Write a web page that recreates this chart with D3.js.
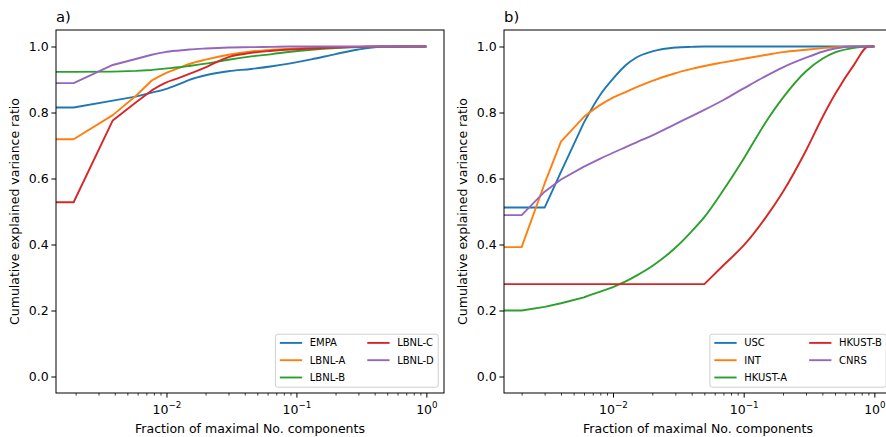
<!DOCTYPE html>
<html lang="en">
<head>
<meta charset="UTF-8">
<title>Cumulative explained variance ratio</title>
<script src="https://d3js.org/d3.v7.min.js"></script>
<style>
  body { margin: 0; background: #fff; }
  svg { display: block; font-family: "DejaVu Sans", sans-serif; }
</style>
</head>
<body>
<svg width="886" height="437"></svg>
<script>
// panel a) -- first x is only a lead-in to the left edge (clipped), like x=0 on a log axis
const xA = [0.0001, 0.00193, 0.00386, 0.0058, 0.0077, 0.0097, 0.0125, 0.015, 0.02, 0.03, 0.045, 0.065, 0.09, 0.13, 0.2, 0.3, 0.45, 0.7, 1.0];
const empa  = [0.815, 0.815, 0.836, 0.848, 0.86, 0.87, 0.886, 0.899, 0.913, 0.925, 0.932, 0.94, 0.949, 0.961, 0.977, 0.991, 0.999, 1.0, 1.0];
const lbnlA = [0.719, 0.719, 0.792, 0.85, 0.897, 0.918, 0.935, 0.947, 0.96, 0.975, 0.985, 0.99, 0.993, 0.996, 0.998, 0.999, 1.0, 1.0, 1.0];
const lbnlB = [0.923, 0.923, 0.924, 0.926, 0.929, 0.933, 0.937, 0.941, 0.948, 0.96, 0.97, 0.977, 0.984, 0.99, 0.995, 0.998, 1.0, 1.0, 1.0];
const lbnlC = [0.528, 0.528, 0.776, 0.83, 0.867, 0.889, 0.905, 0.917, 0.937, 0.968, 0.981, 0.987, 0.991, 0.994, 0.997, 0.999, 1.0, 1.0, 1.0];
const lbnlD = [0.889, 0.889, 0.944, 0.962, 0.975, 0.983, 0.988, 0.991, 0.994, 0.997, 0.998, 0.999, 1.0, 1.0, 1.0, 1.0, 1.0, 1.0, 1.0];
const labelsA = ["EMPA", "LBNL-A", "LBNL-B", "LBNL-C", "LBNL-D"];

// panel b)
const xB = [0.0001, 0.002, 0.003, 0.004, 0.006, 0.008, 0.01, 0.0125, 0.015, 0.02, 0.03, 0.04, 0.05, 0.07, 0.1, 0.15, 0.2, 0.3, 0.4, 0.5, 0.7, 0.9, 1.0];
const usc    = [0.512, 0.512, 0.512, 0.62, 0.77, 0.854, 0.902, 0.943, 0.966, 0.985, 0.997, 0.999, 1.0, 1.0, 1.0, 1.0, 1.0, 1.0, 1.0, 1.0, 1.0, 1.0, 1.0];
const intl   = [0.392, 0.392, 0.585, 0.712, 0.787, 0.823, 0.845, 0.862, 0.876, 0.896, 0.919, 0.932, 0.941, 0.952, 0.963, 0.975, 0.983, 0.99, 0.995, 0.998, 1.0, 1.0, 1.0];
const hkustA = [0.2, 0.2, 0.211, 0.222, 0.24, 0.257, 0.271, 0.288, 0.305, 0.335, 0.39, 0.44, 0.483, 0.565, 0.66, 0.775, 0.845, 0.925, 0.963, 0.982, 0.996, 1.0, 1.0];
const hkustB = [0.28, 0.28, 0.28, 0.28, 0.28, 0.28, 0.28, 0.28, 0.28, 0.28, 0.28, 0.28, 0.28, 0.337, 0.397, 0.486, 0.56, 0.685, 0.785, 0.855, 0.945, 1.0, 1.0];
const cnrs   = [0.489, 0.489, 0.56, 0.597, 0.636, 0.66, 0.678, 0.695, 0.709, 0.731, 0.765, 0.789, 0.808, 0.838, 0.873, 0.912, 0.937, 0.966, 0.984, 0.994, 1.0, 1.0, 1.0];
const labelsB = ["USC", "INT", "HKUST-A", "HKUST-B", "CNRS"];

const yTicks = [0.0, 0.2, 0.4, 0.6, 0.8, 1.0];
const xMajor = [0.01, 0.1, 1];
const colors = ["#1f77b4", "#ff7f0e", "#2ca02c", "#d62728", "#9467bd"];

const svg = d3.select("svg");
const axTop = 30, axBottom = 393, axW = 388;
const tickFont = 12.5, legFont = 10;

const y = d3.scaleLinear().domain([-0.05, 1.05]).range([axBottom, axTop]);

// straight segments for the first few (sparse) points, smooth after
function pathFor(xs, s, kink, x) {
  let flat = 0;
  while (flat + 1 < s.length && s[flat + 1] === s[0]) flat++;
  const k = Math.max(kink, flat);
  const pts = s.map((v, j) => [x(xs[j]), y(v)]);
  const a = d3.line()(pts.slice(0, k + 1));
  const b = d3.line().curve(d3.curveMonotoneX)(pts.slice(k));
  return a + b.replace(/^M/, "L");
}

function drawPanel(id, left, title, xs, series, labels, kink) {
  // matplotlib-like 5% margin in log space, lead-in point excluded
  const lo = Math.log10(d3.min(xs.slice(1))), hi = Math.log10(d3.max(xs));
  const m = (hi - lo) * 0.05;
  const x = d3.scaleLog().domain([10 ** (lo - m), 10 ** (hi + m)]).range([left, left + axW]);
  const g = svg.append("g");

  g.append("clipPath").attr("id", "clip-" + id)
    .append("rect").attr("x", left).attr("y", axTop).attr("width", axW).attr("height", axBottom - axTop);

  series.forEach((s, i) => {
    g.append("path")
      .attr("clip-path", `url(#clip-${id})`)
      .attr("fill", "none")
      .attr("stroke", colors[i])
      .attr("stroke-width", 1.9)
      .attr("stroke-linejoin", "round")
      .attr("d", pathFor(xs, s, kink, x));
  });

  // y axis
  const ya = g.append("g").attr("transform", `translate(${left},0)`)
    .call(d3.axisLeft(y).tickValues(yTicks).tickFormat(d3.format(".1f")).tickSize(4.6).tickPadding(2.8));
  ya.select(".domain").remove();
  ya.selectAll("line").attr("stroke", "#000").attr("stroke-width", 1);
  ya.selectAll("text").attr("font-size", tickFont).attr("fill", "#000")
    .attr("font-family", "DejaVu Sans");

  // x axis: minor then major
  const [d0, d1] = x.domain();
  const minor = [];
  for (let k = -4; k <= 1; k++) for (let j = 2; j <= 9; j++) {
    const v = j * 10 ** k;
    if (v >= d0 && v <= d1) minor.push(v);
  }
  const xm = g.append("g").attr("transform", `translate(0,${axBottom})`)
    .call(d3.axisBottom(x).tickValues(minor).tickFormat("").tickSize(2.6));
  xm.select(".domain").remove();
  xm.selectAll("line").attr("stroke", "#000").attr("stroke-width", 0.75);

  const xa = g.append("g").attr("transform", `translate(0,${axBottom})`)
    .call(d3.axisBottom(x).tickValues(xMajor).tickFormat("").tickSize(4.6));
  xa.select(".domain").remove();
  xa.selectAll("line").attr("stroke", "#000").attr("stroke-width", 1);
  xa.selectAll(".tick").each(function (d) {
    const t = d3.select(this).select("text")
      .attr("y", 20.5).attr("dy", null)
      .attr("font-size", tickFont).attr("fill", "#000").attr("font-family", "DejaVu Sans")
      .attr("text-anchor", "middle");
    t.append("tspan").text("10");
    t.append("tspan").attr("font-size", tickFont * 0.7).attr("dy", -5.2)
      .text(Math.log10(d) === 0 ? "0" : "\u2212" + Math.round(-Math.log10(d)));
  });

  // frame
  g.append("rect").attr("x", left).attr("y", axTop).attr("width", axW).attr("height", axBottom - axTop)
    .attr("fill", "none").attr("stroke", "#000").attr("stroke-width", 1);

  // labels
  g.append("text").attr("x", left + axW / 2).attr("y", 433)
    .attr("text-anchor", "middle").attr("font-size", tickFont)
    .text("Fraction of maximal No. components");
  g.append("text")
    .attr("transform", `translate(${left - 41},${(axTop + axBottom) / 2}) rotate(-90)`)
    .attr("text-anchor", "middle").attr("dy", "0.35em").attr("font-size", tickFont)
    .text("Cumulative explained variance ratio");
  g.append("text").attr("x", left).attr("y", 22).attr("font-size", 14.8).text(title);

  // legend, lower right, two columns
  const pad = 4.4, hl = 22.3, htp = 7.6, cs = 22, rowH = 17.3;
  const right = left + axW - 5.8, bot = axBottom - 5.8;
  const lg = g.append("g");
  const box = lg.append("rect");
  const cols = [[0, 1, 2], [3, 4]];
  const colW = [];
  const items = [];
  cols.forEach((c, ci) => {
    let w = 0;
    c.forEach((idx, ri) => {
      const t = lg.append("text").attr("font-size", legFont).attr("dy", "0.35em").text(labels[idx]);
      w = Math.max(w, t.node().getComputedTextLength());
      items.push({ t, idx, ci, ri });
    });
    colW.push(hl + htp + w);
  });
  const boxW = pad * 2 + colW[0] + cs + colW[1];
  const boxH = 53;
  const bx = right - boxW, by = bot - boxH;
  box.attr("x", bx).attr("y", by).attr("width", boxW).attr("height", boxH)
    .attr("rx", 2.2).attr("fill", "#fff").attr("fill-opacity", 0.8)
    .attr("stroke", "#d0d0d0").attr("stroke-width", 1);
  items.forEach(({ t, idx, ci, ri }) => {
    const cx = bx + pad + (ci === 0 ? 0 : colW[0] + cs);
    const cy = by + 8.7 + ri * rowH;
    lg.append("line").attr("x1", cx).attr("x2", cx + hl).attr("y1", cy).attr("y2", cy)
      .attr("stroke", colors[idx]).attr("stroke-width", 1.9);
    t.attr("x", cx + hl + htp).attr("y", cy);
  });
}

drawPanel("a", 56, "a)", xA, [empa, lbnlA, lbnlB, lbnlC, lbnlD], labelsA, 4);
drawPanel("b", 504, "b)", xB, [usc, intl, hkustA, hkustB, cnrs], labelsB, 4);
</script>
</body>
</html>
